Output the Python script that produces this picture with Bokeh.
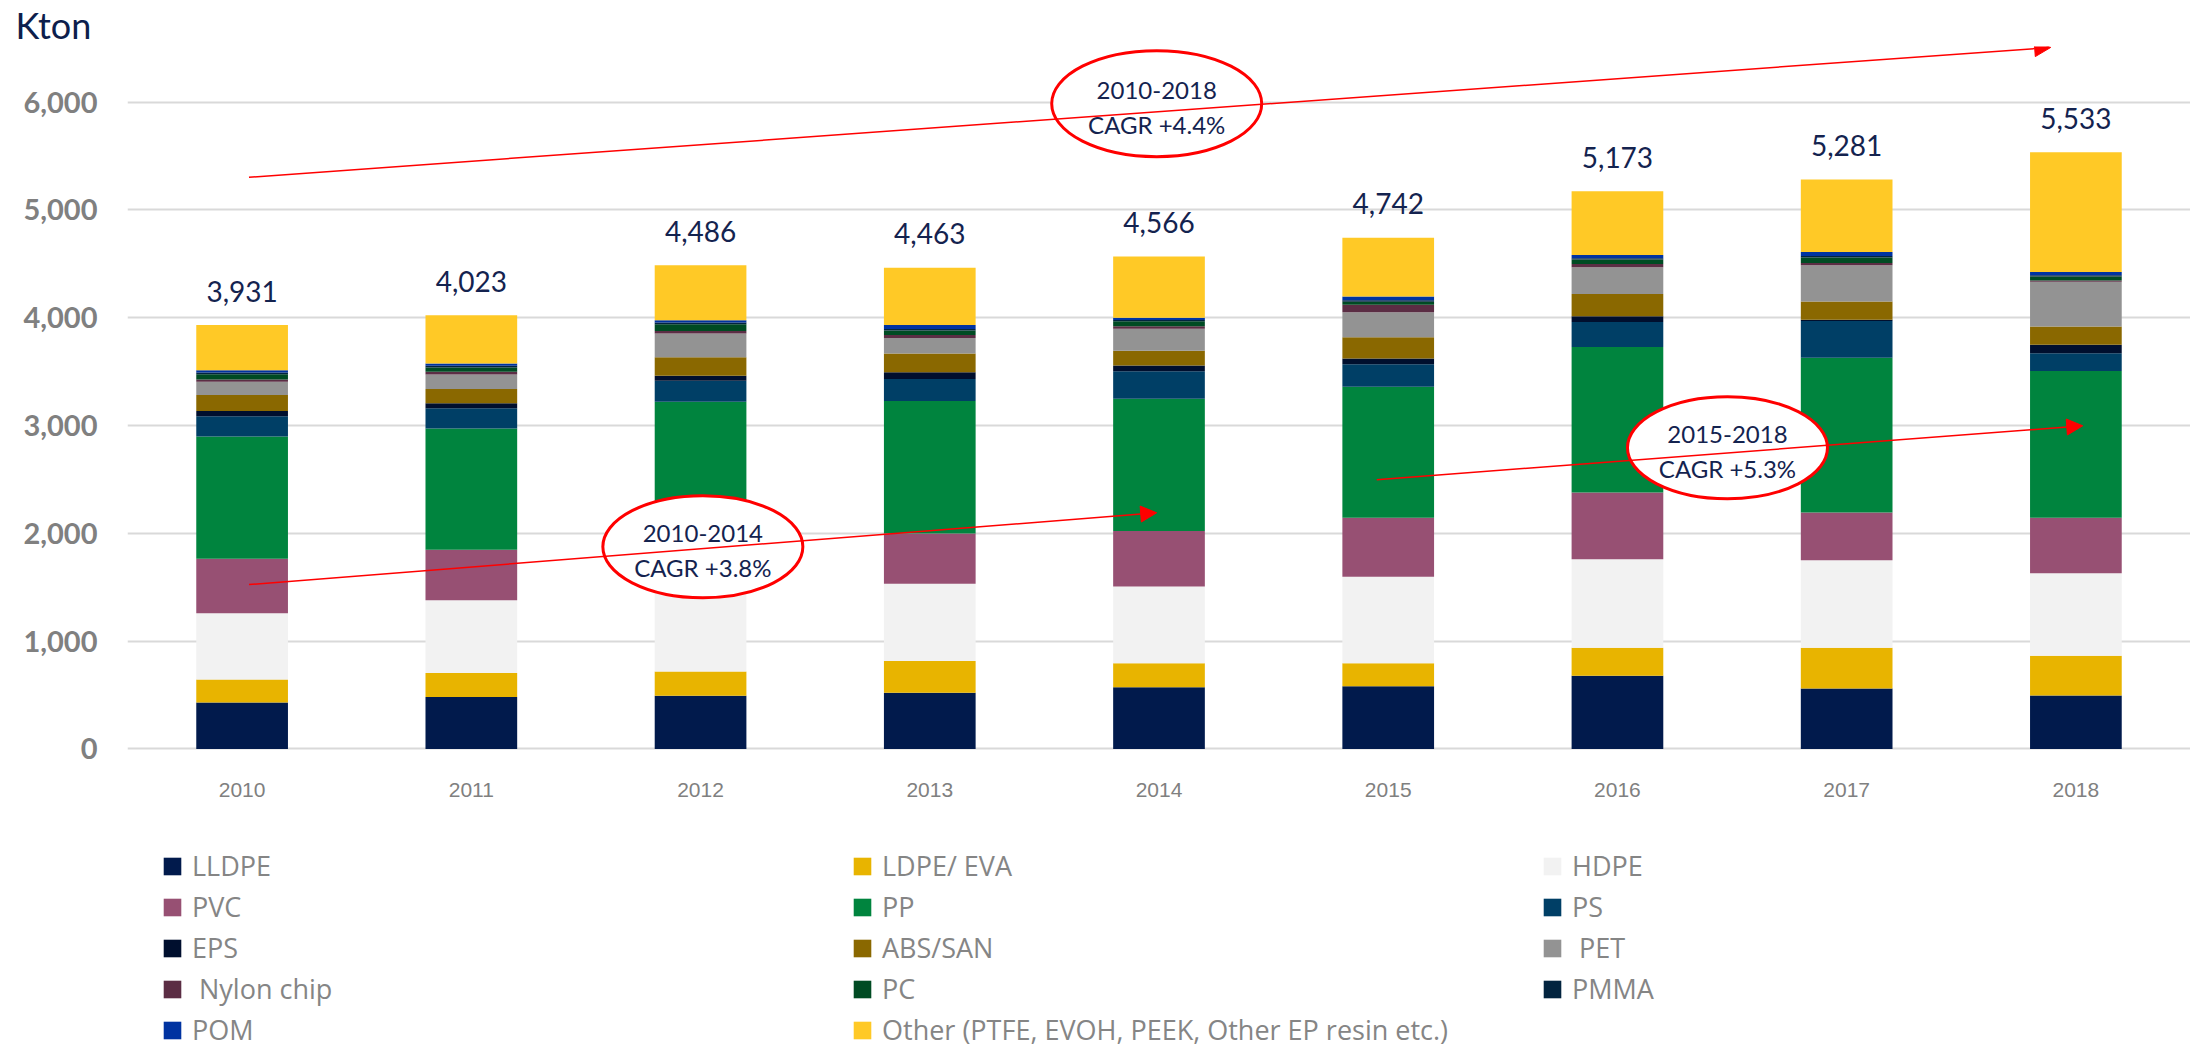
from bokeh.plotting import figure
from bokeh.layouts import column
from bokeh.models import (ColumnDataSource, Range1d, FixedTicker, NumeralTickFormatter,
                          Legend, LegendItem, Arrow, NormalHead, Title)
from bokeh.core.properties import value
from bokeh.embed import file_html
from bokeh.resources import INLINE

years = ["2010", "2011", "2012", "2013", "2014", "2015", "2016", "2017", "2018"]
series_names = ["LLDPE", "LDPE/ EVA", "HDPE", "PVC", "PP", "PS", "EPS", "ABS/SAN", " PET",
                " Nylon chip", "PC", "PMMA", "POM", "Other (PTFE, EVOH, PEEK, Other EP resin etc.)"]
colors = ["#011A4C", "#E8B400", "#F2F2F2", "#975073", "#00843E", "#003F66", "#000F2E",
          "#8A6800", "#939393", "#5B2D44", "#004B23", "#02243F", "#0033A1", "#FFC926"]

lldpe = [431, 481, 493, 521, 572, 582, 679, 559, 496]
ldpe_eva = [213, 222, 225, 294, 223, 213, 260, 380, 369]
hdpe = [613, 675, 750, 716, 712, 801, 819, 811, 765]
pvc = [506, 468, 480, 466, 514, 548, 621, 443, 513]
pp = [1134, 1125, 1272, 1229, 1226, 1216, 1349, 1435, 1361]
ps = [188, 188, 194, 206, 256, 208, 231, 340, 166]
eps = [49, 46, 47, 61, 52, 52, 54, 12, 78]
abs_san = [148, 132, 172, 175, 137, 198, 207, 170, 170]
pet = [123, 136, 219, 144, 205, 233, 248, 335, 414]
nylon = [22, 25, 25, 27, 24, 69, 29, 21, 12]
pc = [49, 40, 61, 41, 45, 27, 42, 53, 37]
pmma = [15, 15, 16, 14, 13, 14, 12, 13, 13]
pom = [22, 22, 21, 38, 21, 34, 29, 37, 29]
other = [418, 448, 511, 531, 566, 547, 593, 672, 1110]
totals = [3931, 4023, 4486, 4463, 4566, 4742, 5173, 5281, 5533]

series_values = [lldpe, ldpe_eva, hdpe, pvc, pp, ps, eps, abs_san, pet, nylon, pc, pmma, pom, other]

# CAGR annotations: arrow from (x0, y0) to (x1, y1), bubble centred at (cx, cy)
cagr_notes = [
    {"x0": 0.53, "y0": 5302, "x1": 8.39, "y1": 6506, "cx": 4.49, "cy": 5985, "w": 210, "h": 106,
     "text": "2010-2018\nCAGR +4.4%"},
    {"x0": 0.53, "y0": 1524, "x1": 4.49, "y1": 2190, "cx": 2.51, "cy": 1875, "w": 200, "h": 102,
     "text": "2010-2014\nCAGR +3.8%"},
    {"x0": 5.45, "y0": 2497, "x1": 8.53, "y1": 2997, "cx": 6.98, "cy": 2793, "w": 200, "h": 102,
     "text": "2015-2018\nCAGR +5.3%"},
]

xpos = [i + 0.5 for i in range(len(years))]
keys = ["s%d" % i for i in range(len(series_names))]
data = {"x": xpos, "total": totals, "total_label": ["{:,}".format(t) for t in totals]}
for k, v in zip(keys, series_values):
    data[k] = v
source = ColumnDataSource(data)

p = figure(width=2190, height=830, output_backend="svg", toolbar_location=None,
           x_range=Range1d(0, len(years)), y_range=Range1d(-15, 6515),
           min_border_left=127, min_border_right=0, min_border_top=40, min_border_bottom=80)
p.outline_line_color = None
p.background_fill_color = "white"
p.border_fill_color = "white"

# unit title
p.title = Title(text="Kton", align="left", offset=-112, standoff=0,
                text_font="Lato", text_font_size="36px", text_font_style="normal",
                text_color="#0D1E4C")

renderers = p.vbar_stack(keys, x="x", width=0.4, color=colors, line_color=None, source=source)

# grid & axes
p.xgrid.grid_line_color = None
p.ygrid.grid_line_color = "#D9D9D9"
p.ygrid.grid_line_width = 2
p.yaxis.ticker = FixedTicker(ticks=[0, 1000, 2000, 3000, 4000, 5000, 6000])
p.yaxis.formatter = NumeralTickFormatter(format="0,0")
p.yaxis.axis_line_color = None
p.yaxis.major_tick_line_color = None
p.yaxis.minor_tick_line_color = None
p.yaxis.major_tick_out = 0
p.yaxis.major_label_standoff = 30
p.yaxis.major_label_text_font = "Lato"
p.yaxis.major_label_text_font_style = "bold"
p.yaxis.major_label_text_font_size = "29px"
p.yaxis.major_label_text_color = "#808080"

p.xaxis.ticker = FixedTicker(ticks=xpos)
p.xaxis.major_label_overrides = {xv: yr for xv, yr in zip(xpos, years)}
p.xaxis.axis_line_color = None
p.xaxis.major_tick_line_color = None
p.xaxis.minor_tick_line_color = None
p.xaxis.major_tick_out = 0
p.xaxis.major_label_standoff = 32
p.xaxis.major_label_text_font = "Liberation Sans"
p.xaxis.major_label_text_font_size = "21px"
p.xaxis.major_label_text_color = "#808080"

# totals
p.text(x="x", y="total", text="total_label", source=source, text_align="center",
       text_baseline="middle", y_offset=-34, text_font=value("Lato"),
       text_font_size="28px", text_color="#14234F")

# CAGR arrows and bubbles
for n in cagr_notes:
    p.add_layout(Arrow(end=NormalHead(size=16, fill_color="#FF0000", line_color="#FF0000"),
                       x_start=n["x0"], y_start=n["y0"], x_end=n["x1"], y_end=n["y1"],
                       line_color="#FF0000", line_width=1.5))
p.ellipse(x=[n["cx"] for n in cagr_notes], y=[n["cy"] for n in cagr_notes],
          width=[n["w"] for n in cagr_notes], height=[n["h"] for n in cagr_notes],
          width_units="screen", height_units="screen",
          fill_color="white", line_color="#FF0000", line_width=3)
p.text(x=[n["cx"] for n in cagr_notes], y=[n["cy"] for n in cagr_notes],
       text=[n["text"] for n in cagr_notes], text_align="center", text_baseline="middle",
       y_offset=3, text_font=value("Lato"), text_font_size="24px", text_color="#14234F",
       text_line_height=1.2)

# legend panel (separate figure below the chart, same series colours)
q = figure(width=2190, height=218, output_backend="svg", toolbar_location=None,
           x_range=Range1d(0, 1), y_range=Range1d(0, 1),
           x_axis_location=None, y_axis_location=None,
           min_border_left=0, min_border_right=0, min_border_top=0, min_border_bottom=0)
q.outline_line_color = None
q.xgrid.visible = False
q.ygrid.visible = False
legend_src = ColumnDataSource({"x": [-10], **{k: [0] for k in keys}})
legend_renderers = q.vbar_stack(keys, x="x", width=0.4, color=colors, line_color=None,
                                source=legend_src)
items = [LegendItem(label=nm, renderers=[r]) for nm, r in zip(series_names, legend_renderers)]
legend = Legend(items=items, orientation="horizontal", ncols=3, location=(34, 0),
                glyph_width=22, glyph_height=22, label_standoff=9, label_width=655,
                label_height=30, spacing=4, padding=0, margin=0,
                label_text_font="Open Sans", label_text_font_size="27px",
                label_text_color="#858585", border_line_color=None,
                background_fill_alpha=0)
q.add_layout(legend, "center")

layout = column(p, q, spacing=0)
open("out.html", "w").write(file_html(layout, INLINE))
